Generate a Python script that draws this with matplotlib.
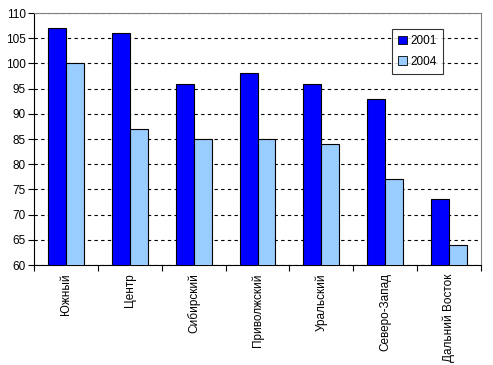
import matplotlib
matplotlib.use("Agg")
import matplotlib.pyplot as plt
import numpy as np

plt.rcParams['font.family'] = ['Liberation Sans', 'DejaVu Sans']

regions = ["Южный", "Центр", "Сибирский", "Приволжский", "Уральский", "Северо-Запад", "Дальний Восток"]
vals_2001 = [107, 106, 96, 98, 96, 93, 73]
vals_2004 = [100, 87, 85, 85, 84, 77, 64]
yticks = list(range(60, 111, 5))

fig = plt.figure(figsize=(4.93, 3.65), dpi=100)
ax = fig.add_axes([34 / 493, 1 - 265 / 365, (481 - 34) / 493, (265 - 13) / 365])

x = np.arange(len(regions))
w = 0.28
ax.bar(x - w / 2, vals_2001, w, color="#0000ff", edgecolor="black", linewidth=0.8, label="2001", zorder=3)
ax.bar(x + w / 2, vals_2004, w, color="#99ccff", edgecolor="black", linewidth=0.8, label="2004", zorder=3)

ax.set_xlim(-0.5, len(regions) - 0.5)
ax.set_ylim(60, 110)
ax.set_yticks(yticks)
ax.tick_params(axis="y", labelsize=8.5, length=4, direction="out", pad=2)
ax.yaxis.grid(True, linestyle=(0, (3, 3)), color="black", linewidth=0.8, zorder=0)

# category ticks sit between groups
ax.set_xticks(np.arange(len(regions) + 1) - 0.5, minor=False)
ax.set_xticklabels([])
ax.tick_params(axis="x", length=4, direction="out")
ax.set_xticks(x, minor=True)
ax.set_xticklabels(regions, minor=True, rotation=90, fontsize=8.5, va="top")
ax.tick_params(axis="x", which="minor", length=0, pad=6)

for s in ["top", "right"]:
    ax.spines[s].set_color("#808080")
for s in ["left", "bottom"]:
    ax.spines[s].set_color("black")

leg = ax.legend(loc="upper left", bbox_to_anchor=((392 - 34) / 447, 1 - (29 - 13) / 252),
                borderaxespad=0, fontsize=8.5, frameon=True, fancybox=False, edgecolor="black",
                handlelength=0.7, handleheight=0.7, handletextpad=0.3, borderpad=0.55,
                labelspacing=0.7)
leg.get_frame().set_linewidth(0.8)
for h in leg.legend_handles:
    h.set_linewidth(0.6)

fig.savefig("out.png", dpi=100)
